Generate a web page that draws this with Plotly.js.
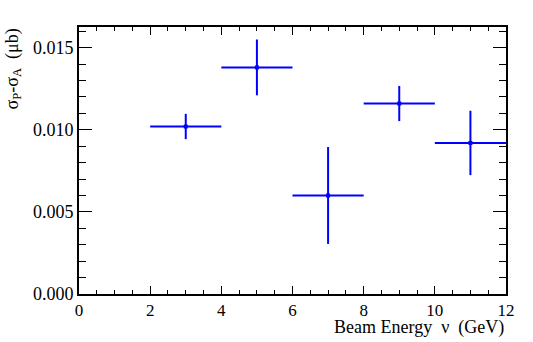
<!DOCTYPE html>
<html>
<head>
<meta charset="utf-8">
<script src="https://cdn.plot.ly/plotly-3.0.1.min.js"></script>
<style>
  html, body { margin: 0; padding: 0; background: #fff; }
  #chart { width: 533px; height: 342px; }
  /* make sure tick labels use the Times-like face, like the ROOT original */
  .xtick text, .ytick text { font-family: 'Liberation Serif', serif !important; }
</style>
</head>
<body>
<div id="chart"></div>
<script>
// beam energy bins (GeV) and sigma_P - sigma_A (ub)
const energy = [3, 5, 7, 9, 11];
const energyErr = [1, 1, 1, 1, 1];
const sigmaDiff = [0.0102, 0.0138, 0.0060, 0.0116, 0.0092];
const sigmaErr = [0.00077, 0.0017, 0.00295, 0.00107, 0.00196];

const serif = "'Liberation Serif', 'Times New Roman', serif";

const data = [
  {
    x: energy,
    y: sigmaDiff,
    type: "scatter",
    mode: "markers",
    marker: { color: "rgb(0,0,255)", size: 4, symbol: "square" },
    error_x: { type: "data", array: energyErr, visible: true, color: "rgb(0,0,255)", thickness: 2, width: 0 },
    error_y: { type: "data", array: sigmaErr, visible: true, color: "rgb(0,0,255)", thickness: 2, width: 0 },
    showlegend: false
  }
];

const layout = {
  width: 533,
  height: 342,
  margin: { l: 79, r: 27, t: 27, b: 48 },
  paper_bgcolor: "#fff",
  plot_bgcolor: "#fff",
  font: { family: serif, size: 18, color: "#000" },
  xaxis: {
    range: [0, 12],
    dtick: 2,
    showgrid: false,
    zeroline: false,
    showline: true,
    linecolor: "#000",
    linewidth: 2,
    mirror: "allticks",
    ticks: "inside",
    ticklen: 8,
    tickcolor: "#000",
    minor: { ticks: "inside", dtick: 0.5, ticklen: 4, tickcolor: "#000", showgrid: false },
    tickfont: { family: serif, size: 17, color: "#000" },
    ticklabelstandoff: 0
  },
  yaxis: {
    range: [0, 0.01626],
    dtick: 0.005,
    tickformat: ".3f",
    showgrid: false,
    zeroline: false,
    showline: true,
    linecolor: "#000",
    linewidth: 2,
    mirror: "allticks",
    ticks: "inside",
    ticklen: 13,
    tickcolor: "#000",
    minor: { ticks: "inside", dtick: 0.001, ticklen: 7, tickcolor: "#000", showgrid: false },
    tickfont: { family: serif, size: 18, color: "#000" },
    ticklabelstandoff: 0
  },
  annotations: [
    {
      text: "Beam Energy\u00a0\u00a0ν\u00a0\u00a0(GeV)",
      xref: "paper", yref: "paper",
      x: 1, y: 0,
      xanchor: "right", yanchor: "top",
      yshift: -21,
      showarrow: false,
      font: { family: serif, size: 18, color: "#000" }
    },
    {
      text: "σ<sub>P</sub>-σ<sub>A</sub>\u00a0\u00a0(μb)",
      xref: "paper", yref: "paper",
      x: 0, y: 1,
      xanchor: "center", yanchor: "top",
      xshift: -66,
      textangle: -90,
      showarrow: false,
      font: { family: serif, size: 18, color: "#000" }
    }
  ]
};

Plotly.newPlot("chart", data, layout, { displayModeBar: false, staticPlot: true });
</script>
</body>
</html>
